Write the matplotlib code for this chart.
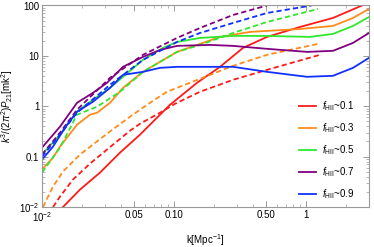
import numpy as np
import matplotlib
matplotlib.use('Agg')
import matplotlib.pyplot as plt
from matplotlib.ticker import FixedLocator, NullFormatter

plt.rcParams['font.family'] = ['Liberation Sans', 'DejaVu Sans']
plt.rcParams['mathtext.fontset'] = 'custom'
plt.rcParams['mathtext.rm'] = 'Liberation Sans'
plt.rcParams['mathtext.it'] = 'Liberation Sans:italic'
plt.rcParams['lines.scale_dashes'] = False

# solid curves (simulation)
k_01 = [0.01442, 0.01941, 0.02751, 0.03899, 0.05526, 0.09327, 0.1494, 0.2232, 0.3333, 0.5064, 0.9006, 1.601, 2.656]
p_01 = [0.01, 0.0222, 0.0482, 0.120, 0.273, 1.07, 2.92, 6.06, 14.4, 23.8, 37.5, 56.6, 100]

k_03 = [0.01, 0.01212, 0.01369, 0.01841, 0.0231, 0.0261, 0.03276, 0.04108, 0.05823, 0.1054, 0.1574, 0.2232, 0.3765, 0.9006, 1.601, 2.27, 3.0]
p_03 = [0.0553, 0.0955, 0.158, 0.430, 0.679, 0.743, 1.17, 2.32, 4.82, 12.0, 17.3, 23.8, 29.9, 34.2, 39.3, 56.6, 85.3]

k_05 = [0.01, 0.01369, 0.01841, 0.02434, 0.03276, 0.04108, 0.05823, 0.08254, 0.1054, 0.1574, 0.2799, 0.5064, 1.072, 1.601, 2.27, 3.0]
p_05 = [0.110, 0.273, 0.778, 1.35, 2.32, 3.84, 8.33, 14.4, 18.9, 22.7, 24.9, 24.9, 23.8, 27.3, 39.3, 59.2]

k_07 = [0.01, 0.01369, 0.01841, 0.02434, 0.03108, 0.04108, 0.05823, 0.07834, 0.1054, 0.1874, 0.2799, 0.5064, 1.018, 1.601, 2.27, 3.0]
p_07 = [0.151, 0.393, 1.17, 1.85, 2.92, 6.06, 9.55, 13.1, 15.8, 16.5, 15.8, 13.8, 12.0, 12.6, 18.1, 28.5]

k_09 = [0.01, 0.01212, 0.01547, 0.01841, 0.02434, 0.03276, 0.04108, 0.05823, 0.07834, 0.1054, 0.1574, 0.2799, 0.5064, 1.018, 1.601, 2.27, 3.0]
p_09 = [0.0872, 0.158, 0.430, 0.778, 1.23, 2.32, 4.20, 4.82, 5.79, 6.06, 6.06, 6.06, 4.82, 3.84, 4.02, 5.79, 9.13]

# dashed curves (model)
kd_01 = [0.01212, 0.01369, 0.01717, 0.0231, 0.03108, 0.04642, 0.05526, 0.07834, 0.1018, 0.1574, 0.2799, 0.5064, 1.276]
pd_01 = [0.01, 0.0161, 0.0351, 0.0727, 0.138, 0.327, 0.450, 0.743, 1.12, 1.94, 3.35, 5.28, 10.5]

kd_03 = [0.01018, 0.01212, 0.01442, 0.01941, 0.03108, 0.04642, 0.06579, 0.08851, 0.1574, 0.2799, 0.5064, 1.233]
pd_03 = [0.01, 0.0255, 0.0505, 0.110, 0.285, 0.620, 1.17, 1.94, 3.50, 6.34, 10.5, 17.3]

kd_05 = [0.01, 0.01369, 0.01841, 0.0261, 0.03899, 0.05823, 0.1054, 0.1574, 0.2799, 0.5064, 1.233]
pd_05 = [0.0482, 0.151, 0.679, 0.977, 1.94, 4.82, 12.0, 16.5, 28.5, 47.1, 85.3]

kd_07 = [0.01, 0.01369, 0.01841, 0.03276, 0.05823, 0.1054, 0.1574, 0.2799, 0.5064]
pd_07 = [0.110, 0.299, 0.853, 3.67, 10.5, 22.7, 35.8, 64.8, 100]

kd_09 = [0.01, 0.01369, 0.01841, 0.03276, 0.05823, 0.1054, 0.1574, 0.2799, 0.5064, 1.1]
pd_09 = [0.100, 0.273, 0.743, 2.67, 8.33, 18.9, 28.5, 45.0, 71.0, 100]

labels = ['0.1', '0.3', '0.5', '0.7', '0.9']
colors = ['#ff1a1a', '#ff8c1a', '#2ee82e', '#800080', '#1030ff']
solid = [(k_01, p_01), (k_03, p_03), (k_05, p_05), (k_07, p_07), (k_09, p_09)]
dashed = [(kd_01, pd_01), (kd_03, pd_03), (kd_05, pd_05), (kd_07, pd_07), (kd_09, pd_09)]

fig = plt.figure(figsize=(3.74, 2.47), dpi=100)
ax = fig.add_axes([42 / 374, 1 - 207 / 247, 327 / 374, 201.5 / 247])

for (k, p), (kd, pd), c, lab in zip(solid, dashed, colors, labels):
    ax.plot(k, p, color=c, lw=1.3, label=r'$f_{\rm HII}$~' + lab)
    ax.plot(kd, pd, color=c, lw=1.3, dashes=(3.8, 2.2))

ax.set_xscale('log')
ax.set_yscale('log')
ax.set_xlim(0.01, 3.0)
ax.set_ylim(0.01, 100)

ax.xaxis.set_major_locator(FixedLocator([0.01, 0.05, 0.1, 0.5, 1]))
ax.set_xticklabels([r'10$^{-2}$', '0.05', '0.10', '0.50', '1'])
xminor = [m * 10.0 ** e for e in (-2, -1, 0) for m in range(2, 10)]
ax.xaxis.set_minor_locator(FixedLocator([v for v in xminor if v <= 3.0]))
ax.xaxis.set_minor_formatter(NullFormatter())

ax.yaxis.set_major_locator(FixedLocator([0.01, 0.1, 1, 10, 100]))
ax.set_yticklabels([r'10$^{-2}$', '0.1', '1', '10', '100'])
yminor = [m * 10.0 ** e for e in (-2, -1, 0, 1) for m in range(2, 10)]
ax.yaxis.set_minor_locator(FixedLocator(yminor))
ax.yaxis.set_minor_formatter(NullFormatter())

for s in ax.spines.values():
    s.set_color('#999999')
    s.set_linewidth(0.8)
ax.tick_params(which='both', direction='in', top=True, right=True,
               color='#999999', labelsize=7, pad=2)
ax.tick_params(which='major', length=4, width=0.7)
ax.tick_params(which='minor', length=2, width=0.5)

ax.set_xlabel(r'k[Mpc$^{-1}$]', fontsize=7)
ax.xaxis.set_label_coords(0.5, -0.125)
ax.set_ylabel(r'$k^3/(2\pi^2)P_{21}[\mathrm{mk}^2]$', fontsize=7)
ax.yaxis.set_label_coords(-0.084, 0.5)

ax.legend(loc='center left', bbox_to_anchor=(0.785, 0.283), frameon=False,
          fontsize=7, handlelength=1.8, handletextpad=0.6, labelspacing=0.85,
          borderpad=0, borderaxespad=0)

fig.savefig('out.png', dpi=100)
